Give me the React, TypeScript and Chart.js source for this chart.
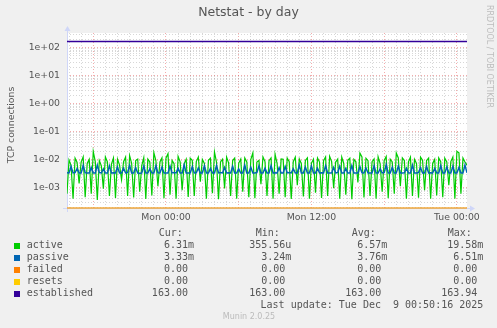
import { useEffect, useRef } from 'react';
import { Chart, registerables } from 'chart.js';

Chart.register(...registerables);

// ---- data (values in milli-connections for active/passive) ----
const startHour = -8 - 10 / 60; // Sun 15:50 relative to Mon 00:00
const endHour = 24 + 50 / 60;   // Tue 00:50
const stepHours = 10 / 60;

const activeMilli = [
  0.6, 9.5, 6.2, 0.4, 11.2, 7.8, 1.4, 8.1, 12.5, 0.45, 7.2, 10.1, 0.6, 19.2, 8.4,
  0.356, 9.1, 5.9, 0.9, 12.4, 8.2, 0.5, 6.8, 11.3, 0.42, 10.2, 6.4, 1.9, 8.3, 12.1,
  0.5, 13.8, 7.3, 0.44, 9.2, 10.4, 0.7, 6.1, 11.6, 0.39, 10.3, 8.1, 0.52, 17.4, 9.2,
  1.1, 8.2, 11.4, 0.41, 11.3, 16.2, 0.55, 9.3, 7.1, 0.4, 12.8, 8.3, 0.8, 7.1, 10.2,
  0.46, 11.1, 9.3, 0.5, 8.4, 12.2, 1.6, 10.1, 7.2, 0.4, 9.4, 11.1, 0.62, 18.3, 8.1,
  0.38, 8.2, 10.3, 0.92, 12.1, 7.4, 0.5, 9.2, 11.2, 0.4, 7.3, 10.4, 0.7, 11.4, 8.2,
  0.45, 10.2, 17.1, 0.41, 8.1, 9.3, 1.3, 12.3, 8.4, 0.5, 9.1, 11.3, 0.4, 15.2, 7.2,
  0.6, 10.4, 10.1, 0.45, 11.2, 8.3, 0.39, 8.3, 12.1, 1.2, 10.4, 7.1, 0.48, 9.2, 11.4,
  0.4, 7.4, 10.2, 0.65, 11.3, 8.1, 0.42, 9.1, 12.3, 0.5, 12.9, 8.4, 0.95, 8.1, 10.3,
  0.4, 12.2, 7.2, 0.55, 9.4, 11.1, 0.38, 10.2, 8.3, 1.5, 16.9, 12.4, 0.44, 11.1, 9.1,
  0.5, 8.3, 10.4, 0.4, 12.4, 7.1, 0.7, 9.2, 12.8, 0.41, 10.3, 8.2, 0.6, 17.1, 11.3,
  1.1, 11.4, 9.2, 0.4, 8.2, 12.1, 0.5, 10.1, 7.3, 0.43, 12.2, 9.4, 0.8, 9.3, 11.2,
  0.4, 7.2, 10.1, 0.52, 11.4, 8.3, 0.45, 11.1, 8.2, 1.2, 8.4, 12.3, 0.4, 19.58, 17.2,
  0.6, 11.2, 8.1, 6.31,
];

const passiveMilli = [
  3.35, 3.3, 5.6, 3.3, 3.4, 4.8, 3.3, 3.3, 6.1, 3.35,
  3.3, 3.3, 5.2, 3.3, 3.3, 6.3, 3.4, 3.3, 4.6, 3.3,
  3.3, 5.9, 3.3, 3.35, 3.3, 5.4, 3.3, 3.3, 4.9, 3.3,
  3.4, 6.2, 3.3, 3.3, 5.1, 3.3, 3.24, 3.3, 5.7, 3.3,
  3.3, 4.7, 3.3, 3.3, 6.0, 3.35, 3.3, 5.3, 3.3, 3.3,
  3.3, 5.8, 3.3, 3.4, 3.3, 4.9, 3.3, 3.3, 6.4, 3.3,
  3.3, 3.3, 5.5, 3.3, 3.35, 5.0, 3.3, 3.3, 5.9, 3.3,
  3.3, 4.8, 3.3, 3.3, 6.1, 3.3, 3.4, 3.3, 5.2, 3.3,
  3.35, 3.3, 5.7, 3.3, 3.3, 4.6, 3.3, 3.3, 6.2, 3.3,
  3.3, 5.3, 3.3, 3.3, 3.4, 5.9, 3.3, 3.3, 4.9, 3.3,
  3.3, 6.0, 3.3, 3.35, 3.3, 5.1, 3.3, 3.3, 5.6, 3.3,
  3.4, 3.3, 4.7, 3.3, 3.3, 6.3, 3.3, 3.3, 5.4, 3.3,
  3.3, 5.8, 3.3, 3.3, 4.9, 3.3, 3.35, 3.3, 6.0, 3.3,
  3.3, 3.3, 5.2, 3.3, 3.4, 5.7, 3.3, 3.3, 4.8, 3.3,
  3.3, 6.1, 3.3, 3.3, 3.3, 5.5, 3.35, 3.3, 5.0, 3.3,
  3.3, 3.3, 5.9, 3.3, 3.3, 4.7, 3.3, 3.4, 6.51, 3.3,
  3.3, 5.3, 3.3, 3.3, 5.8, 3.3, 3.3, 3.35, 4.9, 3.3,
  3.3, 6.2, 3.3, 3.3, 3.4, 5.1, 3.3, 3.3, 5.6, 3.3,
  3.35, 3.3, 4.8, 3.3, 3.3, 6.0, 3.3, 3.3, 5.4, 3.3,
  3.3, 5.7, 3.3, 3.3, 5.2, 3.3, 3.3, 6.3, 3.33,
];

const flatTimes = [startHour, endHour];
const failedValues = [0, 0];
const resetsValues = [0, 0];
const establishedValues = [163, 163];

const xTickHours = [0, 12, 24];
const xTickLabels = ['Mon 00:00', 'Mon 12:00', 'Tue 00:00'];

const yMin = 1.85e-4;
const yMax = 330;

const seriesNames = ['active', 'passive', 'failed', 'resets', 'established'];
const seriesColors = ['#00CC00', '#0066B3', '#FF8000', '#FFCC00', '#330099'];
const legendHeaders = ['Cur:', 'Min:', 'Avg:', 'Max:'];
const curValues = ['6.31m', '3.33m', '0.00 ', '0.00 ', '163.00 '];
const minValues = ['355.56u', '3.24m', '0.00 ', '0.00 ', '163.00 '];
const avgValues = ['6.57m', '3.76m', '0.00 ', '0.00 ', '163.00 '];
const maxValues = ['19.58m', '6.51m', '0.00 ', '0.00 ', '163.94 '];
const lastUpdate = 'Last update: Tue Dec  9 00:50:16 2025';

const chartTitle = 'Netstat - by day';
const yTitle = 'TCP connections';
const watermark = 'RRDTOOL / TOBI OETIKER';
const footer = 'Munin 2.0.25';

// ---- helpers ----
const clampLog = (v: number) => (v > 0 ? v : yMin);
const toPoints = (times: number[], vals: number[], scale = 1) =>
  vals.map((v, i) => ({ x: times[i], y: clampLog(v * scale) }));
const seriesTimes = activeMilli.map((_, i) => startHour + i * stepHours);

const isDecade = (v: number) => {
  const e = Math.floor(Math.log10(v) + 1e-9);
  return Math.abs(v / Math.pow(10, e) - 1) < 1e-6;
};
const fmtExp = (v: number) => {
  const e = Math.round(Math.log10(v));
  const sign = e < 0 ? '-' : '+';
  const a = Math.abs(e);
  return '1e' + sign + (a < 10 ? '0' + a : String(a));
};

const MONO = '"DejaVu Sans Mono"';
const SANS = '"DejaVu Sans"';
const FONT_COLOR = '#555555';
const AXIS_COLOR = '#CFD6F8';
const MAJOR_GRID = 'rgba(230,70,70,0.45)';
const MINOR_GRID = 'rgba(150,150,150,0.38)';

const decorPlugin = {
  id: 'muninDecor',
  beforeDraw(chart: any) {
    const { ctx, width, height, chartArea: a } = chart;
    ctx.save();
    ctx.fillStyle = '#F0F0F0';
    ctx.fillRect(0, 0, width, height);
    ctx.fillStyle = '#FFFFFF';
    ctx.fillRect(a.left, a.top, a.right - a.left, a.bottom - a.top);
    ctx.restore();
  },
  beforeDatasetsDraw(chart: any) {
    const { ctx, chartArea: a } = chart;
    ctx.save();
    ctx.strokeStyle = AXIS_COLOR;
    ctx.fillStyle = AXIS_COLOR;
    ctx.lineWidth = 1;
    const lx = Math.round(a.left) + 0.5;
    const by = Math.round(a.bottom) + 0.5;
    ctx.beginPath();
    ctx.moveTo(lx, a.bottom + 4);
    ctx.lineTo(lx, a.top - 3);
    ctx.moveTo(a.left - 4, by);
    ctx.lineTo(a.right + 4, by);
    ctx.stroke();
    ctx.beginPath();
    ctx.moveTo(lx - 3, a.top - 2);
    ctx.lineTo(lx + 3, a.top - 2);
    ctx.lineTo(lx, a.top - 7);
    ctx.closePath();
    ctx.fill();
    ctx.beginPath();
    ctx.moveTo(a.right + 3, by - 3);
    ctx.lineTo(a.right + 3, by + 3);
    ctx.lineTo(a.right + 8, by);
    ctx.closePath();
    ctx.fill();
    ctx.restore();
  },
  afterDraw(chart: any) {
    const { ctx, width } = chart;
    ctx.save();
    ctx.fillStyle = FONT_COLOR;
    ctx.font = `12.5px ${SANS}`;
    ctx.textAlign = 'center';
    ctx.textBaseline = 'middle';
    ctx.fillText(chartTitle, width / 2, 13);

    // y axis title
    ctx.save();
    ctx.translate(12, 125);
    ctx.rotate(-Math.PI / 2);
    ctx.font = `9.33px ${SANS}`;
    ctx.textAlign = 'center';
    ctx.textBaseline = 'middle';
    ctx.fillText(yTitle, 0, 0);
    ctx.restore();

    // watermark
    ctx.save();
    ctx.translate(489, 5);
    ctx.rotate(Math.PI / 2);
    ctx.fillStyle = '#BDBDBD';
    ctx.font = `8px ${SANS}`;
    ctx.textAlign = 'left';
    ctx.textBaseline = 'middle';
    ctx.fillText(watermark, 0, 0);
    ctx.restore();

    // legend
    ctx.font = `10px ${MONO}`;
    ctx.textBaseline = 'middle';
    ctx.fillStyle = FONT_COLOR;
    const headerX = [158.7, 255.7, 351.7, 447.7];
    const colRight = [194, 291.3, 387.3, 483.3];
    const headerY = 233.5;
    const rowY0 = 245.5;
    const rowH = 12;
    ctx.textAlign = 'left';
    legendHeaders.forEach((h, i) => ctx.fillText(h, headerX[i], headerY));
    const cols = [curValues, minValues, avgValues, maxValues];
    seriesNames.forEach((name, r) => {
      const y = rowY0 + r * rowH;
      ctx.fillStyle = seriesColors[r];
      ctx.fillRect(14, Math.round(y) - 3, 6, 6);
      ctx.fillStyle = FONT_COLOR;
      ctx.textAlign = 'left';
      ctx.fillText(name, 26.7, y);
      ctx.textAlign = 'right';
      cols.forEach((c, ci) => ctx.fillText(c[r], colRight[ci], y));
    });
    ctx.textAlign = 'right';
    ctx.fillText(lastUpdate, 483.3, rowY0 + 5 * rowH);

    ctx.fillStyle = '#BBBBBB';
    ctx.font = `8px ${SANS}`;
    ctx.textAlign = 'center';
    ctx.fillText(footer, 249, 317);
    ctx.restore();
  },
};

export default function App() {
  const ref = useRef<HTMLCanvasElement | null>(null);

  useEffect(() => {
    document.body.style.margin = '0';
    const canvas = ref.current;
    if (!canvas) return;

    const lineBase = { pointRadius: 0, pointHoverRadius: 0, tension: 0, fill: false };
    const zeroClip = { left: 0, right: 0, top: 0, bottom: 1 };

    const chart = new Chart(canvas, {
      type: 'line',
      data: {
        datasets: [
          { ...lineBase, label: seriesNames[4], data: toPoints(flatTimes, establishedValues), borderColor: seriesColors[4], borderWidth: 1.5, order: 1 },
          { ...lineBase, label: seriesNames[3], data: toPoints(flatTimes, resetsValues), borderColor: 'rgba(235,190,80,0.85)', borderWidth: 1, order: 2, clip: zeroClip },
          { ...lineBase, label: seriesNames[2], data: toPoints(flatTimes, failedValues), borderColor: seriesColors[2], borderWidth: 1, order: 3, clip: zeroClip },
          { ...lineBase, label: seriesNames[1], data: toPoints(seriesTimes, passiveMilli, 1e-3), borderColor: seriesColors[1], borderWidth: 1.5, order: 4 },
          { ...lineBase, label: seriesNames[0], data: toPoints(seriesTimes, activeMilli, 1e-3), borderColor: seriesColors[0], borderWidth: 1.2, order: 5 },
        ] as any,
      },
      options: {
        animation: false,
        responsive: false,
        devicePixelRatio: 1,
        events: [],
        layout: { padding: { left: 0, right: 30, top: 33, bottom: 100 } },
        plugins: {
          legend: { display: false },
          title: { display: false },
          tooltip: { enabled: false },
        },
        scales: {
          x: {
            type: 'linear',
            min: startHour,
            max: endHour,
            afterFit: (s: any) => { s.height = 20; },
            afterBuildTicks: (s: any) => {
              const t = [];
              for (let h = Math.ceil(startHour); h <= Math.floor(endHour); h++) t.push({ value: h });
              s.ticks = t;
            },
            ticks: {
              autoSkip: false,
              maxRotation: 0,
              minRotation: 0,
              padding: 4,
              color: FONT_COLOR,
              font: { family: 'DejaVu Sans', size: 9.33 },
              callback: (v: any) => {
                const i = xTickHours.indexOf(Number(v));
                return i >= 0 ? xTickLabels[i] : '';
              },
            },
            grid: {
              drawTicks: false,
              lineWidth: 1,
              color: (c: any) => (c.tick && Number(c.tick.value) % 6 === 0 ? MAJOR_GRID : MINOR_GRID),
            },
            border: { display: false, dash: [1, 2] },
          },
          y: {
            type: 'logarithmic',
            min: yMin,
            max: yMax,
            afterFit: (s: any) => { s.width = 67; },
            afterBuildTicks: (s: any) => {
              const t = [];
              for (let e = -4; e <= 2; e++) {
                for (let k = 1; k <= 9; k++) {
                  const v = k * Math.pow(10, e);
                  if (v >= yMin && v <= yMax) t.push({ value: v });
                }
              }
              s.ticks = t;
            },
            ticks: {
              autoSkip: false,
              padding: 7,
              color: FONT_COLOR,
              font: { family: 'DejaVu Sans', size: 9.33 },
              callback: (v: any) => (isDecade(Number(v)) ? fmtExp(Number(v)) : ''),
            },
            grid: {
              drawTicks: false,
              lineWidth: 1,
              color: (c: any) => (c.tick && isDecade(Number(c.tick.value)) ? MAJOR_GRID : MINOR_GRID),
            },
            border: { display: false, dash: [1, 2] },
          },
        },
      } as any,
      plugins: [decorPlugin],
    });

    return () => chart.destroy();
  }, []);

  return (
    <div style={{ width: 497, height: 328 }}>
      <canvas ref={ref} width={497} height={328} style={{ display: 'block' }} />
    </div>
  );
}
